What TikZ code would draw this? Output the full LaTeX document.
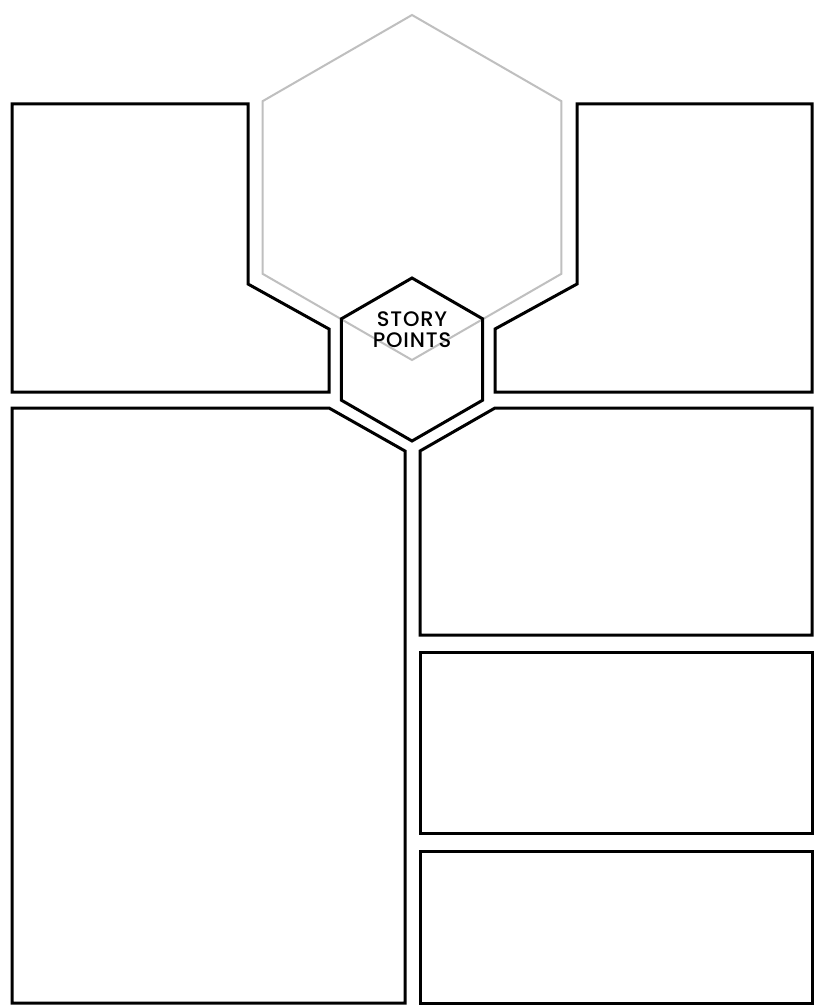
\documentclass[tikz,border=0pt]{standalone}
\usepackage{fontspec}
\usepackage{tikz}
\usetikzlibrary{calc, positioning}
\newfontfamily\storyfont[LetterSpace=4]{Poppins Medium}

\begin{document}
\begin{tikzpicture}[x=1pt, y=-1pt]

    % Definindo os estilos
    \tikzstyle{panel} = [draw, line width=3pt, line join=miter]
    \tikzstyle{ghost_hex} = [draw, line width=2pt, color=black!25]
    \tikzstyle{hex_line} = [draw, line width=3pt, line join=miter]
    \tikzstyle{hex_text} = [align=center, inner sep=0pt, font=\storyfont\fontsize{21}{21}\selectfont]

    % Area da pagina
    \useasboundingbox (0,0) rectangle (820,1008);
    \fill [white] (0,0) rectangle (820,1008);

    % Hexagono cinza (ao fundo)
    \path [ghost_hex] (412,15) -- (561.4,101.2) -- (561.4,273.8) -- (412,360) -- (262.6,273.8) -- (262.6,101.2) -- cycle;

    % Quadros de cima
    \path [panel] (12,104) -- (248,104) -- (248,284) -- (329,329) -- (329,392) -- (12,392) -- cycle;
    \path [panel] (812,104) -- (577,104) -- (577,284) -- (495,329) -- (495,392) -- (812,392) -- cycle;

    % Quadro grande da esquerda
    \path [panel] (12,408) -- (329,408) -- (405,451) -- (405,1003) -- (12,1003) -- cycle;

    % Quadros da direita
    \path [panel] (420,451) -- (495,408) -- (812,408) -- (812,635) -- (420,635) -- cycle;
    \path [panel] (420,652) rectangle (812,833);
    \path [panel] (420,851) rectangle (812,1003);

    % Hexagono central
    \coordinate (hex_center) at (412,359.5);
    \path [hex_line] (412,278) -- (482.6,318.8) -- (482.6,400.2) -- (412,441) -- (341.4,400.2) -- (341.4,318.8) -- cycle;
    \node [hex_text] (story_points) at (412,330) {STORY\\POINTS};
\end{tikzpicture}
\end{document}
